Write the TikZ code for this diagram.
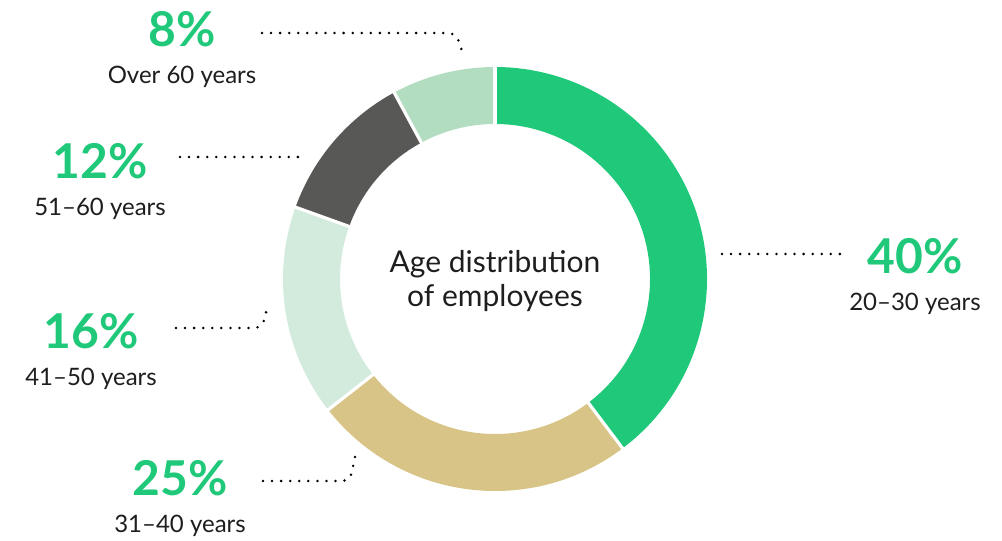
\documentclass[tikz,border=0pt]{standalone}
\usepackage{fontspec}
\setmainfont{Lato}
\usetikzlibrary{positioning}
\definecolor{ageGruen}{RGB}{32,201,122}
\definecolor{ageBeige}{RGB}{215,196,134}
\definecolor{ageMint}{RGB}{211,235,221}
\definecolor{ageGrau}{RGB}{88,88,86}
\definecolor{ageBlass}{RGB}{179,221,192}
\definecolor{textGrau}{RGB}{30,30,30}
\tikzstyle{pct} = [font=\fontsize{36}{40}\selectfont\bfseries,text=ageGruen,inner sep=0pt,anchor=base]
\tikzstyle{lbl} = [font=\fontsize{18}{21}\selectfont,text=textGrau,inner sep=0pt,anchor=base]
\tikzstyle{leader} = [draw=black,line width=2.1pt,line cap=round,dash pattern=on 0pt off 6.8pt,rounded corners=6pt]
\tikzstyle{gap} = [draw=white,line width=2.4pt]

\begin{document}
\begin{tikzpicture}[x=0.75pt,y=0.75pt]
\useasboundingbox (0,0) rectangle (1002,540);
\coordinate (ctr) at (495,261);
% ring
\begin{scope}[shift={(ctr)}]
\fill[ageGruen] (-53:212) arc[start angle=-53,end angle=90,radius=212] -- (90:155) arc[start angle=90,end angle=-53,radius=155] -- cycle;
\fill[ageBlass] (90:212) arc[start angle=90,end angle=118.4,radius=212] -- (118.4:155) arc[start angle=118.4,end angle=90,radius=155] -- cycle;
\fill[ageGrau] (118.4:212) arc[start angle=118.4,end angle=160.2,radius=212] -- (160.2:155) arc[start angle=160.2,end angle=118.4,radius=155] -- cycle;
\fill[ageMint] (160.2:212) arc[start angle=160.2,end angle=218.1,radius=212] -- (218.1:155) arc[start angle=218.1,end angle=160.2,radius=155] -- cycle;
\fill[ageBeige] (218.1:212) arc[start angle=218.1,end angle=307,radius=212] -- (307:155) arc[start angle=307,end angle=218.1,radius=155] -- cycle;
\draw[gap] (90:150) -- (90:217);
\draw[gap] (118.4:150) -- (118.4:217);
\draw[gap] (160.2:150) -- (160.2:217);
\draw[gap] (218.1:150) -- (218.1:217);
\draw[gap] (307:150) -- (307:217);
\end{scope}
\node[align=center,font=\fontsize{22.5}{25.5}\selectfont,text=textGrau,inner sep=0pt] (titel) at (495,259) {Age distribution\\of employees};
% values
\node[pct] (p8) at (182,493) {8\%};
\node[lbl] (l8) at ([yshift=-27.75pt]p8.base) {Over 60 years};
\node[pct] (p12) at (100,362) {12\%};
\node[lbl] (l12) at ([yshift=-27.75pt]p12.base) {51–60 years};
\node[pct] (p16) at (91,192) {16\%};
\node[lbl] (l16) at ([yshift=-27.75pt]p16.base) {41–50 years};
\node[pct] (p25) at (180,45) {25\%};
\node[lbl] (l25) at ([yshift=-27.75pt]p25.base) {31–40 years};
\node[pct] (p40) at (915,267) {40\%};
\node[lbl] (l40) at ([yshift=-27.75pt]p40.base) {20–30 years};
% leaders
\coordinate (s8) at (262,507); \coordinate (c8) at (456,507); \coordinate (e8) at (464,483);
\coordinate (s12) at (180,383); \coordinate (e12) at (305,383);
\coordinate (s16) at (176,212); \coordinate (c16) at (262,212); \coordinate (e16) at (268,235);
\coordinate (s25) at (263,59); \coordinate (c25) at (350,59); \coordinate (e25) at (355,83);
\coordinate (s40) at (722,286); \coordinate (e40) at (847,286);
\draw[leader] (s8) -- (c8) -- (e8);
\draw[leader] (s12) -- (e12);
\draw[leader] (s16) -- (c16) -- (e16);
\draw[leader] (s25) -- (c25) -- (e25);
\draw[leader] (s40) -- (e40);
\end{tikzpicture}
\end{document}
